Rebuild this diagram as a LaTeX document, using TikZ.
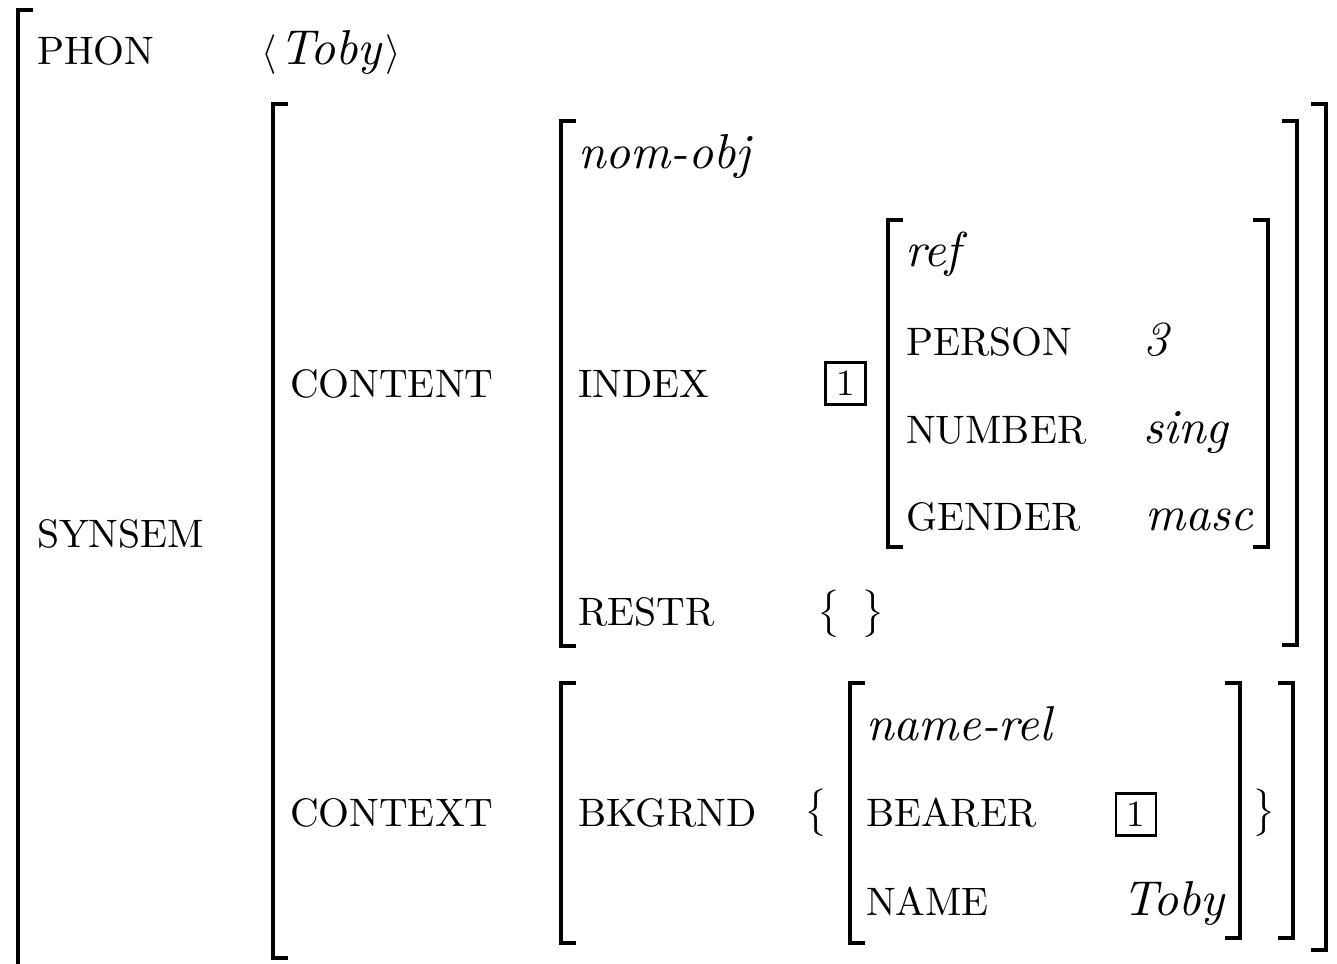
\documentclass[tikz,border=0pt]{standalone}
\usepackage{amsmath}
\usepackage{graphicx}
\newcommand{\sx}[1]{\scalebox{3.97}{#1}}
\newcommand{\ix}[1]{\scalebox{4.9}{\textit{#1}}}
\tikzset{
  brk/.style={line width=3.6pt},
  txt/.style={anchor=base west, inner sep=0pt, outer sep=0pt},
  tagbox/.style={draw, line width=2.4pt, minimum width=40pt, minimum height=42pt, inner sep=0pt},
}
\newcommand{\lbrk}[3]{\draw[brk] (#1+15,#2) -- (#1,#2) -- (#1,#3) -- (#1+15,#3);}
\newcommand{\rbrk}[3]{\draw[brk] (#1-15,#2) -- (#1,#2) -- (#1,#3) -- (#1-15,#3);}
\begin{document}
\begin{tikzpicture}[x=1pt,y=-1pt]
\useasboundingbox (0,0) rectangle (1337,963);
\clip (0,0) rectangle (1337,963);
% brackets
\lbrk{18}{10}{1100}
\lbrk{273}{104}{958}
\rbrk{1326}{104}{950}
\lbrk{561}{121}{646}
\rbrk{1297}{121}{645}
\lbrk{888}{220}{547}
\rbrk{1268}{220}{547}
\lbrk{561}{683}{943}
\rbrk{1293}{683}{938}
\lbrk{850}{683}{943}
\rbrk{1240}{683}{938}
% texts
\node[txt] (phon) at (37,65) {\sx{PHON}};
\node[txt] (langle) at (261,65) {\sx{$\langle$}};
\node[txt] (phonv) at (279,65) {\ix{Toby}};
\node[txt] (rangle) at (385,65) {\sx{$\rangle$}};
\node[txt] (synsem) at (37,547) {\sx{SYNSEM}};
\node[txt] (content) at (290,397) {\sx{CONTENT}};
\node[txt] (context) at (290,826) {\sx{CONTEXT}};
\node[txt] (nomobj) at (578,168) {\ix{nom-obj}};
\node[txt] (index) at (578,397) {\sx{INDEX}};
\node[txt] (restr) at (578,625) {\sx{RESTR}};
\node[txt] (ref) at (905,266) {\ix{ref}};
\node[txt] (person) at (906,355) {\sx{PERSON}};
\node[txt] (number) at (906,443) {\sx{NUMBER}};
\node[txt] (gender) at (906,530) {\sx{GENDER}};
\node[txt] (pv) at (1143,355) {\ix{3}};
\node[txt] (nv) at (1143,443) {\ix{sing}};
\node[txt] (gv) at (1145,530) {\ix{masc}};
\node[txt] (bkgrnd) at (578,826) {\sx{BKGRND}};
\node[txt] (namerel) at (866,740) {\ix{name-rel}};
\node[txt] (bearer) at (866,826) {\sx{BEARER}};
\node[txt] (name) at (866,915) {\sx{NAME}};
\node[txt] (toby) at (1122,915) {\ix{Toby}};
% tags
\node[tagbox] (tag1) at (845.5,383.5) {\scalebox{3.7}{1}};
\node[tagbox] (tag2) at (1136,814.5) {\scalebox{3.7}{1}};
% braces
\node[txt] (rl) at (817,624) {\sx{$\big\{$}};
\node[txt] (rr) at (861,624) {\sx{$\big\}$}};
\node[txt] (bl) at (804,823) {\sx{$\big\{$}};
\node[txt] (br) at (1252,823) {\sx{$\big\}$}};
\end{tikzpicture}
\end{document}
